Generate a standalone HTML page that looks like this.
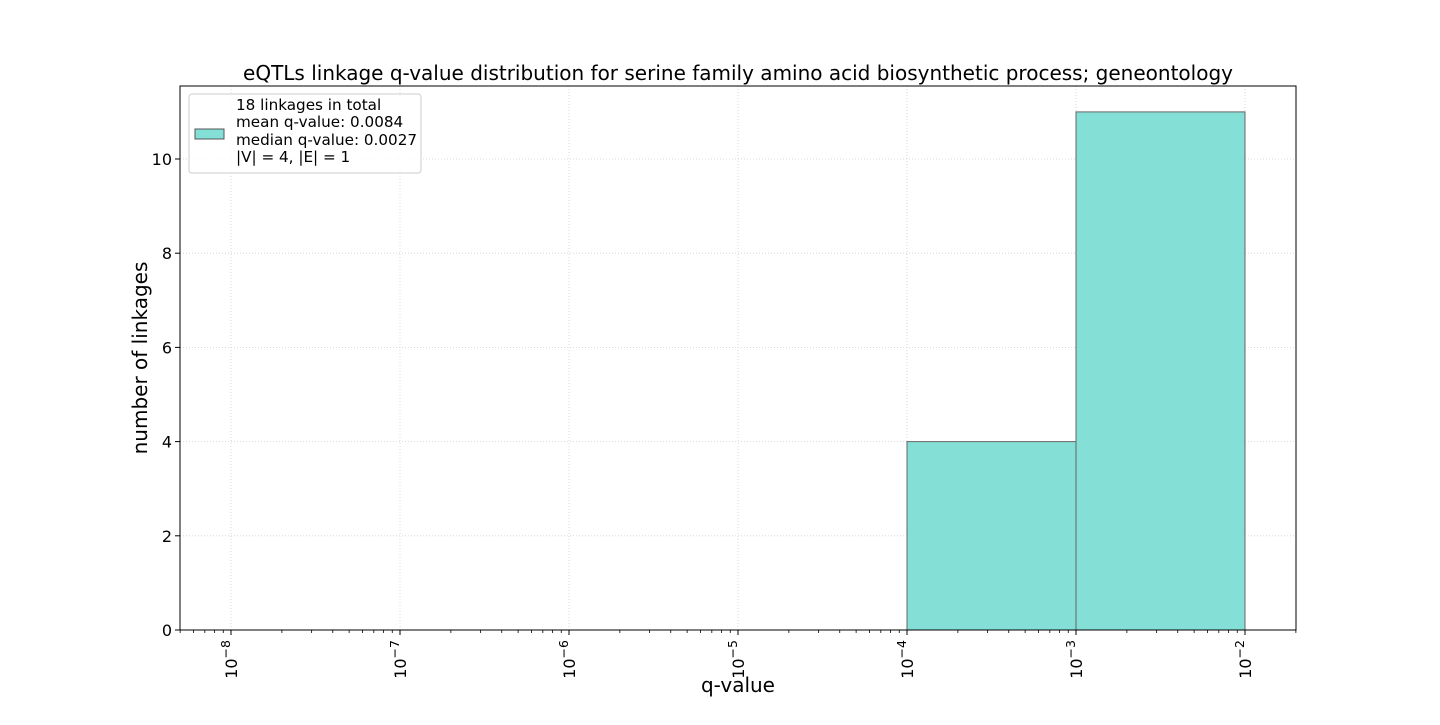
<!DOCTYPE html>
<html><head><meta charset="utf-8"><style>
body{margin:0;background:#fff;width:1440px;height:720px;overflow:hidden}
text{font-family:"DejaVu Sans","Liberation Sans",sans-serif}
</style></head><body>
<svg id="chart" width="1440" height="720" xmlns="http://www.w3.org/2000/svg">
<text x="738" y="80" text-anchor="middle" font-size="20">eQTLs linkage q-value distribution for serine family amino acid biosynthetic process; geneontology</text>
<g id="grid"></g>
<g id="bars"></g>
<rect x="180" y="86" width="1116" height="544" fill="none" stroke="#000" stroke-width="1"/>
<g id="axes"></g>
<text x="738" y="692" text-anchor="middle" font-size="20">q-value</text>
<text transform="translate(147,358) rotate(-90)" text-anchor="middle" font-size="20">number of linkages</text>
<g>
<rect x="189" y="94" width="232" height="79" rx="3" fill="#fff" fill-opacity="0.8" stroke="#ccc"/>
<rect x="195" y="129" width="29" height="10" fill="#84dfd6" stroke="#555" stroke-width="1"/>
<text x="236" y="110" font-size="15.2">18 linkages in total</text>
<text x="236" y="127" font-size="15.2">mean q-value: 0.0084</text>
<text x="236" y="145" font-size="15.2">median q-value: 0.0027</text>
<text x="236" y="162" font-size="15.2">|V| = 4, |E| = 1</text>
</g>
</svg>
<script>
const binEdgesExp = [-4, -3, -2];
const binCounts = [4, 11];
const xTickExps = [-8, -7, -6, -5, -4, -3, -2];
const yTicks = [0, 2, 4, 6, 8, 10];
const NS = "http://www.w3.org/2000/svg";
const L = 180, R = 1296, T = 86, B = 630;
const xMin = -8 - 51/169, xMax = -2 + 51/169;
const yMax = (630 - 86) / 47.1;
const xs = e => L + (e - xMin) / (xMax - xMin) * (R - L);
const ys = v => B - v / yMax * (B - T);
function mk(tag, attrs, parent) { const el = document.createElementNS(NS, tag); for (const k in attrs) el.setAttribute(k, attrs[k]); parent.appendChild(el); return el; }
const grid = document.getElementById('grid'), bars = document.getElementById('bars'), axes = document.getElementById('axes');
xTickExps.forEach(e => {
  const x = xs(e);
  const g = mk('line', {x1: x, x2: x, y1: T, y2: B, stroke: '#d0d0d0', 'stroke-dasharray': '1,2', 'stroke-width': 0.8}, grid);
  
  
  const t = mk('line', {x1: x, x2: x, y1: B, y2: B + 5, stroke: '#000'}, axes);
  
  
  const lb = mk('text', {transform: `translate(${x + 6},${B + 10}) rotate(-90)`, 'text-anchor': 'end', 'font-size': 16}, axes);
  
  
  lb.innerHTML = '10<tspan dy="-7" font-size="12.5">\u2212' + (-e) + '</tspan>';
});
for (let d = Math.floor(xMin); d < Math.ceil(xMax); d++) {
  for (let m = 2; m <= 9; m++) {
    const e = d + Math.log10(m);
    if (e < xMin || e > xMax) continue;
    const t = mk('line', {x1: xs(e), x2: xs(e), y1: B, y2: B + 3, stroke: '#000', 'stroke-width': 0.8}, axes);
    
    
  }
}
yTicks.forEach(v => {
  const y = ys(v);
  const g = mk('line', {x1: L, x2: R, y1: y, y2: y, stroke: '#d0d0d0', 'stroke-dasharray': '1,2', 'stroke-width': 0.8}, grid);
  
  
  const t = mk('line', {x1: L - 5, x2: L, y1: y, y2: y, stroke: '#000'}, axes);
  
  
  const lb = mk('text', {x: L - 8, y: y + 6, 'text-anchor': 'end', 'font-size': 16}, axes);
  
  
  lb.textContent = v;
});
binCounts.forEach((c, i) => {
  const x0 = xs(binEdgesExp[i]), x1 = xs(binEdgesExp[i + 1]);
  const r = mk('rect', {x: x0, y: ys(c), width: x1 - x0, height: B - ys(c), fill: '#84dfd6', stroke: '#666', 'stroke-width': 1}, bars);
  
  
});
</script>
</body></html>
